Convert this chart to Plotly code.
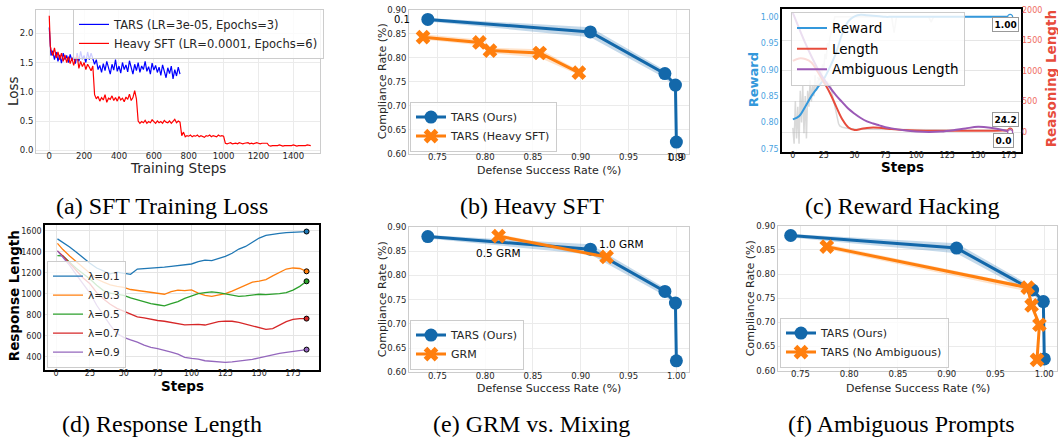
import plotly.graph_objects as go

W, H = 1058, 442

# ---------------- (a) SFT training loss ----------------
a_tars_steps = [0, 3, 6] + list(range(10, 751, 10))
a_tars_loss = [2.10, 1.85, 1.72,
               1.62, 1.70, 1.55, 1.68, 1.52, 1.63, 1.49, 1.66, 1.55, 1.62, 1.50, 1.64, 1.53, 1.60, 1.48, 1.66, 1.52, 1.69, 1.56, 1.62, 1.50, 1.68, 1.55, 1.66, 1.58,
               1.47, 1.55, 1.38, 1.45, 1.33, 1.48, 1.36, 1.52, 1.40, 1.30, 1.47, 1.37, 1.55, 1.35, 1.44, 1.32, 1.50, 1.38, 1.46, 1.34, 1.53, 1.41, 1.30, 1.47, 1.36,
               1.50, 1.33, 1.44, 1.38, 1.52, 1.35, 1.43, 1.30, 1.49, 1.37, 1.45, 1.33, 1.42, 1.28, 1.46, 1.36, 1.24, 1.41, 1.31, 1.44, 1.22, 1.38, 1.27, 1.42, 1.30]
a_heavy_steps = [0, 3, 6] + list(range(10, 1501, 10))
a_heavy_loss = [2.30, 1.95, 1.78,
                1.72, 1.62, 1.75, 1.58, 1.68, 1.55, 1.66, 1.52, 1.63, 1.50, 1.60, 1.48, 1.58, 1.45, 1.56, 1.62, 1.40, 1.52, 1.43, 1.50, 1.38, 1.47, 1.42, 1.36,
                1.44,
                0.95, 0.88, 0.92, 0.84, 0.90, 0.86, 0.95, 0.82, 0.89, 0.87, 0.93, 0.85, 0.90, 0.84, 0.92, 0.86, 0.89, 0.83, 0.91, 0.87, 0.96, 0.85, 0.90, 1.02, 0.88,
                0.50, 0.46, 0.49, 0.47, 0.51, 0.46, 0.49, 0.47, 0.52, 0.48, 0.46, 0.50, 0.47, 0.49, 0.46, 0.51, 0.48, 0.47, 0.50, 0.46, 0.49, 0.53, 0.47, 0.50, 0.48,
                0.25, 0.31, 0.23, 0.25, 0.24, 0.26, 0.23, 0.25, 0.24, 0.26, 0.23, 0.25, 0.24, 0.22, 0.25, 0.24, 0.26, 0.23, 0.25, 0.24, 0.23, 0.26, 0.24, 0.25, 0.24,
                0.12, 0.11, 0.12, 0.13, 0.11, 0.12, 0.12, 0.11, 0.13, 0.12, 0.11, 0.12, 0.12, 0.13, 0.11, 0.12, 0.11, 0.12, 0.13, 0.12, 0.11, 0.12, 0.12, 0.11, 0.12,
                0.08, 0.07, 0.08, 0.08, 0.07, 0.08, 0.09, 0.08, 0.07, 0.08, 0.08, 0.07, 0.08, 0.08, 0.09, 0.08, 0.07, 0.08, 0.08, 0.07, 0.08, 0.08, 0.09, 0.08, 0.08]
a_xticks = [0, 200, 400, 600, 800, 1000, 1200, 1400]
a_yticks = [0.0, 0.5, 1.0, 1.5, 2.0]

# ---------------- Pareto frontiers (b, e, f) ----------------
tars_dsr = [0.740, 0.910, 0.988, 0.999, 1.000]
tars_cr = [0.880, 0.854, 0.767, 0.743, 0.624]
tars_cr_hi = [0.883, 0.864, 0.774, 0.748, 0.625]
tars_cr_lo = [0.876, 0.843, 0.758, 0.737, 0.623]
tars_lambda_first = "0.1"
tars_lambda_last = "0.9"

heavy_dsr = [0.735, 0.794, 0.805, 0.857, 0.898]
heavy_cr = [0.843, 0.832, 0.815, 0.810, 0.769]
heavy_cr_hi = [0.849, 0.838, 0.821, 0.818, 0.774]
heavy_cr_lo = [0.838, 0.826, 0.810, 0.800, 0.764]

grm_dsr = [0.814, 0.927]
grm_cr = [0.881, 0.838]
grm_cr_hi = [0.885, 0.842]
grm_cr_lo = [0.877, 0.834]
grm_labels = ["0.5 GRM", "1.0 GRM"]

noamb_dsr = [0.777, 0.983, 0.987, 0.995, 0.9925]
noamb_cr = [0.857, 0.772, 0.735, 0.695, 0.622]
noamb_cr_hi = [0.862, 0.776, 0.738, 0.698, 0.623]
noamb_cr_lo = [0.852, 0.764, 0.732, 0.692, 0.621]

pf_xticks = [0.75, 0.80, 0.85, 0.90, 0.95, 1.00]
pf_yticks = [0.60, 0.65, 0.70, 0.75, 0.80, 0.85, 0.90]

# ---------------- (c) Reward hacking ----------------
c_steps = [0, 5, 10, 15, 20, 25, 30, 35, 40, 45, 50, 55, 60, 65, 70, 75, 80, 90, 100, 110, 120, 130, 140, 150, 160, 170, 176]
c_reward = [0.806, 0.812, 0.830, 0.850, 0.866, 0.882, 0.905, 0.932, 0.968, 0.992, 1.001, 1.004, 1.003, 1.002, 1.001, 1.0, 1.0, 1.0, 1.0, 1.0, 1.0, 1.0, 1.0, 1.0, 1.0, 1.0, 1.0]
c_length = [1165, 1205, 1195, 1140, 990, 820, 640, 420, 210, 75, 35, 50, 68, 74, 70, 60, 48, 32, 25, 23, 22, 22, 22, 22, 23, 24, 24.2]
c_amb = [1950, 1700, 1460, 1240, 1040, 870, 730, 600, 490, 380, 300, 230, 175, 140, 110, 80, 60, 30, 10, 2, 8, 30, 60, 85, 70, 35, 0.0]
c_raw_steps = list(range(0, 37)) + [50, 80, 82, 84, 110, 112, 114, 140, 176]
c_raw_reward = [0.79, 0.76, 0.84, 0.77, 0.83, 0.76, 0.86, 0.80, 0.87, 0.78, 0.85, 0.77, 0.86, 0.83, 0.88, 0.84,
                0.87, 0.85, 0.89, 0.86, 0.88, 0.87, 0.90, 0.88, 0.91, 0.90, 0.93, 0.92, 0.95, 0.94, 0.96, 0.97,
                0.98, 0.99, 1.0, 1.0, 1.0, 1.0, 1.0, 0.97, 1.0, 1.0, 0.99, 1.0, 1.0, 1.0]
c_raw_len_steps = [20, 21, 22, 23, 24, 25, 26, 27, 28, 29, 30, 31, 32, 33, 34, 35, 36, 37, 38, 40, 45, 50, 60, 80, 100, 120, 140, 160, 176]
c_raw_len = [900, 850, 880, 820, 870, 800, 860, 780, 830, 740, 800, 700, 620, 520, 400, 300, 200, 140, 100, 80, 60, 50, 45, 40, 35, 35, 33, 33, 30]
c_xticks = [0, 25, 50, 75, 100, 125, 150, 175]
c_yticks_l = [0.75, 0.80, 0.85, 0.90, 0.95, 1.00]
c_yticks_r = [0, 500, 1000, 1500, 2000]

# ---------------- (d) Response length ----------------
d_steps = [1, 5, 10, 15, 20, 25, 30, 35, 40, 45, 50, 55, 60, 65, 70, 75, 80, 85, 90, 95, 100, 105, 110, 115,
           120, 125, 130, 135, 140, 145, 150, 155, 160, 165, 170, 175, 180, 185]
d_lam01 = [1522, 1490, 1445, 1395, 1340, 1290, 1245, 1215, 1190, 1205, 1195, 1185, 1235, 1238, 1245, 1250, 1253, 1260, 1270,
           1280, 1283, 1305, 1320, 1315, 1335, 1355, 1385, 1425, 1450, 1490, 1530, 1555, 1568, 1575, 1582, 1587, 1590, 1592]
d_lam03 = [1479, 1420, 1360, 1305, 1250, 1200, 1140, 1110, 1085, 1070, 1060, 1040, 1030, 1022, 1015, 1000, 995, 1020, 1035,
           1030, 1036, 1005, 985, 975, 985, 1000, 1025, 1055, 1085, 1110, 1120, 1135, 1170, 1205, 1235, 1245, 1240, 1213]
d_lam05 = [1362, 1360, 1300, 1240, 1190, 1140, 1080, 1030, 1005, 995, 985, 960, 940, 920, 905, 895, 885, 905, 925,
           955, 980, 1000, 1010, 1018, 1010, 998, 985, 975, 980, 990, 995, 992, 995, 1000, 1010, 1035, 1070, 1118]
d_lam07 = [1408, 1360, 1290, 1215, 1150, 1095, 1010, 950, 900, 860, 835, 810, 780, 770, 755, 745, 738, 725, 710,
           703, 705, 708, 702, 720, 735, 740, 738, 728, 710, 690, 672, 660, 668, 705, 735, 755, 763, 763]
d_lam09 = [1408, 1350, 1270, 1180, 1090, 1005, 890, 790, 700, 620, 585, 560, 540, 510, 490, 478, 465, 445, 425,
           395, 385, 378, 362, 355, 350, 347, 352, 360, 362, 375, 390, 405, 420, 432, 442, 452, 460, 468]
d_names = ["λ=0.1", "λ=0.3", "λ=0.5", "λ=0.7", "λ=0.9"]
d_colors = ["#1f77b4", "#ff7f0e", "#2ca02c", "#d62728", "#9467bd"]
d_xticks = [0, 25, 50, 75, 100, 125, 150, 175]
d_yticks = [400, 600, 800, 1000, 1200, 1400, 1600]

captions = ["(a) SFT Training Loss", "(b) Heavy SFT", "(c) Reward Hacking",
            "(d) Response Length", "(e) GRM vs. Mixing", "(f) Ambiguous Prompts"]

# ---------------- styling ----------------
FONT = "DejaVu Sans"
TXT = "#262626"
BLUE = "#1368aa"
ORANGE = "#ff7f0e"
BLUE_BAND = "rgba(19,104,170,0.25)"
ORANGE_BAND = "rgba(255,127,14,0.22)"
C_BLUE, C_RED, C_PURPLE = "#3498db", "#e74c3c", "#9b59b6"


def dom_x(l, r):
    return [l / W, r / W]


def dom_y(t, b):
    return [1 - b / H, 1 - t / H]


def px(x):
    return x / W


def py(y):
    return 1 - y / H


fig = go.Figure()

# (a)
fig.add_trace(go.Scatter(x=a_tars_steps, y=a_tars_loss, mode="lines", name="TARS (LR=3e-05, Epochs=3)",
                         line=dict(color="blue", width=1.2), xaxis="x", yaxis="y", legend="legend"))
fig.add_trace(go.Scatter(x=a_heavy_steps, y=a_heavy_loss, mode="lines", name="Heavy SFT (LR=0.0001, Epochs=6)",
                         line=dict(color="red", width=1.2), xaxis="x", yaxis="y", legend="legend"))


def band(x, lo, hi, color, xa, ya):
    fig.add_trace(go.Scatter(x=list(x) + list(x)[::-1], y=list(hi) + list(lo)[::-1], fill="toself",
                             fillcolor=color, line=dict(width=0), mode="lines", hoverinfo="skip",
                             showlegend=False, xaxis=xa, yaxis=ya))


def frontier(x, y, name, color, symbol, size, xa, ya, lg):
    fig.add_trace(go.Scatter(x=x, y=y, mode="lines+markers", name=name,
                             line=dict(color=color, width=3),
                             marker=dict(symbol=symbol, size=size, color=color, line=dict(width=0)),
                             xaxis=xa, yaxis=ya, legend=lg))


# (b)
band(tars_dsr, tars_cr_lo, tars_cr_hi, BLUE_BAND, "x2", "y2")
band(heavy_dsr, heavy_cr_lo, heavy_cr_hi, ORANGE_BAND, "x2", "y2")
frontier(tars_dsr, tars_cr, "TARS (Ours)", BLUE, "circle", 13, "x2", "y2", "legend2")
frontier(heavy_dsr, heavy_cr, "TARS (Heavy SFT)", ORANGE, "x", 13, "x2", "y2", "legend2")

# (e)
band(tars_dsr, tars_cr_lo, tars_cr_hi, BLUE_BAND, "x5", "y5")
band(grm_dsr, grm_cr_lo, grm_cr_hi, ORANGE_BAND, "x5", "y5")
frontier(tars_dsr, tars_cr, "TARS (Ours)", BLUE, "circle", 13, "x5", "y5", "legend5")
frontier(grm_dsr, grm_cr, "GRM", ORANGE, "x", 13, "x5", "y5", "legend5")

# (f)
band(tars_dsr, tars_cr_lo, tars_cr_hi, BLUE_BAND, "x6", "y6")
band(noamb_dsr, noamb_cr_lo, noamb_cr_hi, ORANGE_BAND, "x6", "y6")
frontier(tars_dsr, tars_cr, "TARS (Ours)", BLUE, "circle", 13, "x6", "y6", "legend6")
frontier(noamb_dsr, noamb_cr, "TARS (No Ambiguous)", ORANGE, "x", 13, "x6", "y6", "legend6")

# (c)
fig.add_trace(go.Scatter(x=c_raw_steps, y=c_raw_reward, mode="lines", line=dict(color="rgba(170,170,170,0.45)", width=1.5),
                         showlegend=False, hoverinfo="skip", xaxis="x3", yaxis="y3"))
fig.add_trace(go.Scatter(x=c_raw_len_steps, y=c_raw_len, mode="lines", line=dict(color="rgba(170,170,170,0.45)", width=1.5),
                         showlegend=False, hoverinfo="skip", xaxis="x3", yaxis="y7"))
fig.add_trace(go.Scatter(x=c_steps, y=c_reward, mode="lines", name="Reward", line=dict(color=C_BLUE, width=2, shape="spline"),
                         xaxis="x3", yaxis="y3", legend="legend3"))
fig.add_trace(go.Scatter(x=c_steps, y=c_length, mode="lines", name="Length", line=dict(color=C_RED, width=2, shape="spline"),
                         xaxis="x3", yaxis="y7", legend="legend3"))
fig.add_trace(go.Scatter(x=c_steps, y=c_amb, mode="lines", name="Ambiguous Length", line=dict(color=C_PURPLE, width=2, shape="spline"),
                         xaxis="x3", yaxis="y7", legend="legend3"))
fig.add_trace(go.Scatter(x=[c_steps[-1]], y=[c_reward[-1]], mode="markers", showlegend=False,
                         marker=dict(symbol="circle", size=5, color="white", line=dict(color=C_BLUE, width=1.2)),
                         xaxis="x3", yaxis="y3"))
fig.add_trace(go.Scatter(x=[c_steps[-1], c_steps[-1]], y=[c_length[-1], c_amb[-1]], mode="markers", showlegend=False,
                         marker=dict(symbol="circle", size=5, color="white", line=dict(color=[C_RED, C_PURPLE], width=1.2)),
                         xaxis="x3", yaxis="y7"))

# (d)
for name, vals, col in zip(d_names, [d_lam01, d_lam03, d_lam05, d_lam07, d_lam09], d_colors):
    fig.add_trace(go.Scatter(x=d_steps, y=vals, mode="lines", name=name, line=dict(color=col, width=1.3),
                             xaxis="x4", yaxis="y4", legend="legend4"))
    fig.add_trace(go.Scatter(x=[d_steps[-1]], y=[vals[-1]], mode="markers", showlegend=False,
                             marker=dict(size=5, color=col, line=dict(color="black", width=1)),
                             xaxis="x4", yaxis="y4"))

# ---------------- axes ----------------


def light_axis(dom, rng, tickvals, anchor, fmt=None, grid=True, standoff=0):
    d = dict(domain=dom, range=rng, tickvals=tickvals, anchor=anchor, showline=True, mirror=True,
             linecolor="#cccccc", linewidth=1, showgrid=grid, gridcolor="#ebebeb", gridwidth=1,
             zeroline=False, ticks="", tickfont=dict(family=FONT, size=8.5, color=TXT),
             ticklabelstandoff=standoff)
    if fmt:
        d["tickformat"] = fmt
    return d


def dark_axis(dom, rng, tickvals, anchor, fmt=None, grid=True, color=TXT, standoff=0):
    d = dict(domain=dom, range=rng, tickvals=tickvals, anchor=anchor, showline=True, mirror=True,
             linecolor="black", linewidth=1.5, showgrid=grid, gridcolor="#e5e5e5", gridwidth=1,
             zeroline=False, ticks="", tickfont=dict(family=FONT, size=8, color=color),
             ticklabelstandoff=standoff)
    if fmt:
        d["tickformat"] = fmt
    return d


layout = dict(
    width=W, height=H, margin=dict(l=0, r=0, t=0, b=0), paper_bgcolor="white", plot_bgcolor="white",
    font=dict(family=FONT, color=TXT),
    xaxis=light_axis(dom_x(36, 320), [-76, 1553], a_xticks, "y", standoff=-5),
    yaxis=light_axis(dom_y(5, 151), [-0.04, 2.4], a_yticks, "x", ".1f"),
    xaxis2=light_axis(dom_x(409, 689), [0.7203, 1.0132], pf_xticks, "y2", ".2f", standoff=-5),
    yaxis2=light_axis(dom_y(5, 152), [0.6, 0.9], pf_yticks, "x2", ".2f"),
    xaxis5=light_axis(dom_x(409, 689), [0.7203, 1.0132], pf_xticks, "y5", ".2f", standoff=-5),
    yaxis5=light_axis(dom_y(227, 376), [0.6, 0.9], pf_yticks, "x5", ".2f"),
    xaxis6=light_axis(dom_x(778, 1057), [0.727, 1.013], pf_xticks, "y6", ".2f", standoff=-5),
    yaxis6=light_axis(dom_y(226, 374), [0.6, 0.9], pf_yticks, "x6", ".2f"),
    xaxis3=dark_axis(dom_x(782, 1021), [-8.8, 184.8], c_xticks, "y3", grid=False, standoff=-5),
    yaxis3=dark_axis(dom_y(4, 150), [0.745, 1.015], c_yticks_l, "x3", ".2f", grid=False, color="#4aa3df"),
    yaxis7=dict(range=[-320, 2016], tickvals=c_yticks_r, overlaying="y3", side="right", anchor="x3",
                showline=False, showgrid=True, gridcolor="#e5e5e5", zeroline=False, ticks="",
                tickfont=dict(family=FONT, size=8, color="#ef6b62")),
    xaxis4=dark_axis(dom_x(45, 319), [-8.2, 194.2], d_xticks, "y4", standoff=-5),
    yaxis4=dark_axis(dom_y(225, 373), [278, 1655], d_yticks, "x4"),
)


def leg(x, y, size, color=TXT, anchor="top"):
    return dict(x=px(x), y=py(y), xanchor="left", yanchor=anchor, bgcolor="rgba(255,255,255,0.8)",
                bordercolor="#cccccc", borderwidth=1, font=dict(family=FONT, size=size, color=color),
                tracegroupgap=0, itemwidth=30)


layout["legend"] = leg(73, 4, 11.5)
layout["legend2"] = leg(410, 150, 11, anchor="bottom")
layout["legend3"] = leg(791, 7, 13.5, "black")
layout["legend4"] = leg(47, 371, 10.5, anchor="bottom")
layout["legend5"] = leg(410, 373, 11, anchor="bottom")
layout["legend6"] = leg(780, 371, 11, anchor="bottom")

anns = []


def ann(text, x, y, size, color=TXT, bold=False, angle=0, family=FONT):
    anns.append(dict(xref="paper", yref="paper", x=px(x), y=py(y), text=f"<b>{text}</b>" if bold else text,
                     showarrow=False, xanchor="center", yanchor="middle", textangle=angle,
                     font=dict(family=family, size=size, color=color)))


# axis titles
ann("Loss", 13, 88, 13.5, angle=-90)
ann("Training Steps", 178, 167, 13.5)
for cx, cy, dx_, dy_ in [(382, 78, 549, 169), (382, 301, 549, 392), (750, 300, 918, 392)]:
    ann("Compliance Rate (%)", cx, cy, 11, angle=-90)
    ann("Defense Success Rate (%)", dx_, dy_, 11)
ann("Reward", 753, 77, 13, color=C_BLUE, bold=True, angle=-90)
ann("Reasoning Length", 1051, 76, 13.5, color=C_RED, bold=True, angle=-90)
ann("Steps", 902, 166, 13.5, color="black", bold=True)
ann("Response Length", 14, 298, 13.5, color="black", bold=True, angle=-90)
ann("Steps", 182, 390, 13.5, color="black", bold=True)

# captions
for text, (x, y) in zip(captions, [(162, 206), (532, 206), (902, 206), (162, 429), (531, 429), (901, 429)]):
    ann(text, x, y, 24, color="black", family="Liberation Serif")

# lambda labels in (b)
anns.append(dict(xref="x2", yref="y2", x=tars_dsr[0], y=tars_cr[0], text=tars_lambda_first, showarrow=False,
                 xshift=-26, font=dict(family=FONT, size=10, color="black")))
anns.append(dict(xref="x2", yref="y2", x=tars_dsr[-1], y=tars_cr[-1], text=tars_lambda_last, showarrow=False,
                 yshift=-15, font=dict(family=FONT, size=10, color="black")))
# GRM labels in (e)
anns.append(dict(xref="x5", yref="y5", x=grm_dsr[0], y=grm_cr[0], text=grm_labels[0], showarrow=False,
                 yshift=-17, font=dict(family=FONT, size=10.5, color="black")))
anns.append(dict(xref="x5", yref="y5", x=grm_dsr[1], y=grm_cr[1], text=grm_labels[1], showarrow=False,
                 xshift=15, yshift=13, font=dict(family=FONT, size=10.5, color="black")))

# end value boxes in (c)
box = dict(showarrow=False, bgcolor="white", bordercolor="#999999", borderwidth=1, borderpad=1.5,
           font=dict(family=FONT, size=9, color="black"))
anns.append(dict(xref="x3", yref="y3", x=c_steps[-1], y=c_reward[-1], text=f"<b>{c_reward[-1]:.2f}</b>",
                 xshift=-5, yshift=-8, **box))
anns.append(dict(xref="x3", yref="y7", x=c_steps[-1], y=c_length[-1], text=f"<b>{c_length[-1]:.1f}</b>",
                 xshift=-5, yshift=11, **box))
anns.append(dict(xref="x3", yref="y7", x=c_steps[-1], y=c_amb[-1], text=f"<b>{c_amb[-1]:.1f}</b>",
                 xshift=-7, yshift=-8, **box))

layout["annotations"] = anns
fig.update_layout(**layout)
fig.write_html("out.html", config={"displayModeBar": False},
               post_script="document.body.style.margin='0';document.documentElement.style.overflow='hidden';")
